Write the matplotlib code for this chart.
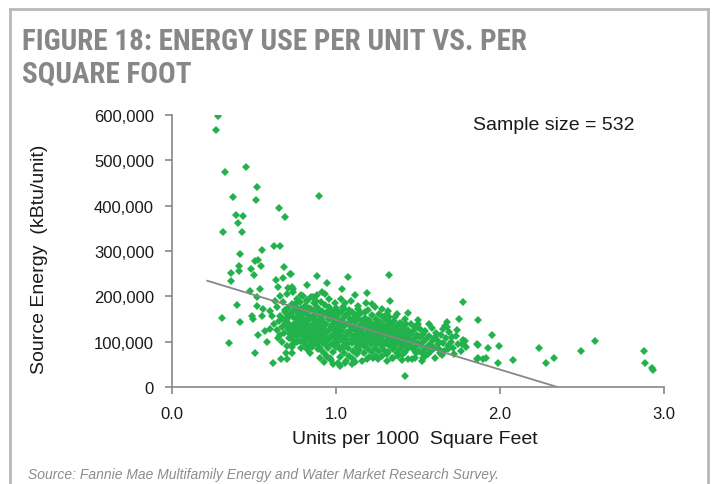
import matplotlib
matplotlib.use("Agg")
import matplotlib.pyplot as plt
from matplotlib.lines import Line2D
import numpy as np

# values: x = units per 1000 sq ft, y = source energy in thousands of kBtu/unit

# sparse points on the left (x < 0.62)
left_x = [0.282, 0.266, 0.451, 0.325, 0.516, 0.374, 0.510, 0.390, 0.431, 0.401, 0.309, 0.427,
          0.549, 0.415, 0.506, 0.522, 0.541, 0.410, 0.480, 0.410, 0.358, 0.502, 0.362, 0.538,
          0.476, 0.516, 0.398, 0.520, 0.557, 0.598, 0.303, 0.486, 0.547, 0.608, 0.496, 0.415,
          0.526, 0.567, 0.598, 0.348, 0.577, 0.506, 0.614, 0.622, 0.659, 0.652, 0.687, 0.894]
left_y = [597, 566, 485, 474, 441, 419, 413, 380, 377, 361, 342, 342,
          303, 293, 277, 280, 266, 268, 260, 255, 251, 247, 233, 216,
          212, 198, 180, 178, 172, 168, 153, 156, 156, 156, 151, 143,
          115, 124, 128, 96, 99, 74, 54, 312, 310, 394, 374, 421]

# x between 0.62 and 0.78
mid_x = [0.683, 0.720, 0.634, 0.679, 0.644, 0.709, 0.740, 0.659, 0.699, 0.628, 0.679, 0.730,
         0.760, 0.638, 0.689, 0.740, 0.659, 0.709, 0.659, 0.669, 0.666, 0.695, 0.730, 0.760,
         0.736, 0.740, 0.700, 0.720, 0.750, 0.770, 0.730, 0.710, 0.760, 0.780, 0.745, 0.720,
         0.690, 0.705, 0.715, 0.620, 0.640, 0.655, 0.670, 0.685, 0.700, 0.715, 0.725, 0.690,
         0.675, 0.645, 0.705, 0.735, 0.745, 0.730, 0.700]
mid_y = [265, 249, 236, 240, 220, 218, 216, 201, 205, 190, 187, 183,
         194, 176, 165, 168, 156, 156, 115, 132, 62, 75, 88, 99,
         104, 95, 150, 160, 140, 165, 130, 142, 150, 135, 122, 118,
         140, 128, 108, 140, 125, 145, 100, 120, 90, 135, 110, 170,
         150, 108, 175, 155, 140, 75, 62]

# upper edge of the main cloud
upper_x = [0.726, 0.882, 0.821, 0.947, 0.917, 0.730, 0.740, 0.801, 0.862, 0.821, 0.780, 0.750,
           1.071, 1.325, 1.035, 1.116, 1.187, 1.045, 1.136, 1.218, 1.279, 0.984, 1.096, 1.177,
           1.309, 1.329, 1.437, 1.421, 1.360, 1.329, 1.400, 1.502, 1.482]
upper_y = [249, 244, 226, 229, 210, 220, 209, 201, 198, 190, 187, 183,
           242, 246, 216, 203, 207, 176, 179, 183, 172, 165, 165, 166,
           161, 190, 163, 150, 154, 143, 139, 139, 132]

# dense core, 0.75 - 1.8
core_x = [0.756, 0.768, 0.775, 0.781, 0.789, 0.794, 0.801, 0.806, 0.812, 0.818, 0.823, 0.829,
          0.834, 0.841, 0.846, 0.852, 0.858, 0.863, 0.868, 0.757, 0.764, 0.772, 0.779, 0.786,
          0.792, 0.798, 0.803, 0.809, 0.815, 0.821, 0.827, 0.832, 0.838, 0.843, 0.849, 0.855,
          0.861, 0.866, 0.803, 0.826, 0.847, 0.787,
          0.872, 0.876, 0.879, 0.883, 0.887, 0.891, 0.894, 0.898, 0.902, 0.905, 0.909, 0.913,
          0.916, 0.920, 0.924, 0.928, 0.931, 0.935, 0.939, 0.942, 0.946, 0.950, 0.953, 0.957,
          0.961, 0.964, 0.968, 0.972, 0.975, 0.979, 0.983, 0.986, 0.990, 0.994, 0.997, 0.878,
          0.890, 0.904, 0.926, 0.948, 0.970, 0.882, 0.935, 0.992, 0.955,
          1.003, 1.007, 1.011, 1.015, 1.019, 1.022, 1.026, 1.030, 1.034, 1.038, 1.042, 1.046,
          1.050, 1.054, 1.058, 1.062, 1.066, 1.070, 1.073, 1.077, 1.081, 1.085, 1.089, 1.093,
          1.097, 1.101, 1.105, 1.109, 1.113, 1.117, 1.121, 1.125, 1.129, 1.133, 1.137, 1.141,
          1.145, 1.149, 1.012, 1.064, 1.118, 1.033, 1.092, 1.005, 1.048, 1.140, 1.020,
          1.153, 1.157, 1.161, 1.165, 1.169, 1.173, 1.177, 1.181, 1.185, 1.189, 1.193, 1.197,
          1.201, 1.205, 1.209, 1.213, 1.217, 1.221, 1.225, 1.229, 1.233, 1.237, 1.241, 1.245,
          1.249, 1.253, 1.257, 1.261, 1.265, 1.269, 1.273, 1.277, 1.281, 1.285, 1.289, 1.293,
          1.297, 1.160, 1.200, 1.258, 1.182, 1.240, 1.292,
          1.302, 1.306, 1.310, 1.314, 1.318, 1.322, 1.326, 1.330, 1.334, 1.338, 1.342, 1.346,
          1.350, 1.354, 1.358, 1.362, 1.366, 1.370, 1.374, 1.378, 1.382, 1.386, 1.390, 1.394,
          1.398, 1.402, 1.406, 1.410, 1.414, 1.418, 1.422, 1.426, 1.430, 1.434, 1.438, 1.442,
          1.446, 1.450, 1.316, 1.370, 1.345, 1.400,
          1.455, 1.460, 1.465, 1.470, 1.475, 1.480, 1.485, 1.490, 1.495, 1.500, 1.505, 1.510,
          1.515, 1.520, 1.525, 1.530, 1.535, 1.540, 1.545, 1.550, 1.555, 1.560, 1.566, 1.572,
          1.578, 1.585, 1.590, 1.596, 1.465, 1.530, 1.500, 1.570,
          1.610, 1.620, 1.630, 1.640, 1.650, 1.660, 1.670, 1.680, 1.690, 1.700, 1.715, 1.730,
          1.745, 1.760, 1.775, 1.790, 1.645, 1.720, 1.650, 1.740]
core_y = [176, 160, 142, 188, 171, 153, 133, 118, 179, 162, 146, 127,
          108, 93, 171, 155, 139, 121, 185, 131, 112, 125, 101, 86,
          137, 112, 97, 145, 104, 84, 114, 158, 132, 116, 101, 88,
          167, 104, 171, 192, 199, 204,
          148, 131, 112, 95, 176, 160, 142, 124, 106, 87, 188, 168,
          151, 133, 117, 99, 72, 180, 160, 140, 121, 104, 86, 195,
          170, 152, 133, 113, 94, 78, 162, 144, 126, 108, 89, 190,
          83, 63, 56, 67, 60, 204, 206, 185, 176,
          175, 156, 138, 121, 102, 84, 66, 166, 147, 129, 111, 93,
          76, 185, 158, 140, 122, 104, 86, 68, 170, 150, 132, 114,
          96, 79, 61, 160, 143, 125, 107, 89, 72, 172, 153, 135,
          117, 99, 52, 57, 55, 195, 190, 92, 171, 82, 145,
          163, 145, 127, 109, 91, 74, 152, 136, 118, 100, 83, 170,
          148, 130, 112, 95, 77, 158, 140, 122, 104, 87, 69, 150,
          133, 115, 97, 80, 162, 143, 125, 107, 90, 154, 136, 118,
          100, 58, 66, 62, 185, 176, 82,
          148, 130, 112, 94, 78, 155, 124, 106, 88, 137, 119, 101,
          84, 146, 128, 110, 93, 76, 134, 116, 99, 81, 142, 124,
          106, 89, 72, 131, 113, 95, 78, 138, 120, 102, 85, 126,
          108, 91, 168, 160, 63, 60,
          140, 118, 100, 83, 125, 107, 90, 74, 115, 97, 80, 128,
          110, 93, 76, 118, 101, 84, 124, 106, 89, 72, 112, 95,
          79, 130, 104, 86, 62, 64, 148, 140,
          120, 102, 84, 115, 97, 80, 108, 91, 122, 100, 86, 112,
          94, 80, 104, 88, 70, 72, 128, 125]

# more points filling the gaps in the core
fill_x = [0.762, 0.770, 0.778, 0.784, 0.791, 0.797, 0.805, 0.811, 0.817, 0.824, 0.831, 0.836,
          0.844, 0.851, 0.857, 0.864, 0.870, 0.876, 0.881, 0.889, 0.896, 0.901, 0.907, 0.912,
          0.918, 0.923, 0.929, 0.934, 0.940, 0.945, 0.951, 0.958, 0.963, 0.969, 0.976, 0.981,
          0.987, 0.993, 0.999, 1.004, 1.010, 1.017, 1.024, 1.031, 1.037, 1.043, 1.049, 1.056,
          1.063, 1.069, 1.075, 1.082, 1.088, 1.095, 1.102, 1.108, 1.115, 1.122, 1.128, 1.135,
          1.142, 1.148, 1.155, 1.163, 1.171, 1.178, 1.186, 1.194, 1.203, 1.211, 1.219, 1.227,
          1.235, 1.243, 1.251, 1.259, 1.267, 1.275, 1.283, 1.291, 1.299, 1.308, 1.316, 1.324,
          1.332, 1.340, 1.348, 1.356, 1.364, 1.372, 1.380, 1.388, 1.396, 1.404, 1.412, 1.420,
          1.428, 1.436, 1.444]
fill_y = [168, 151, 133, 117, 162, 145, 126, 108, 92, 137, 120, 174,
          150, 130, 112, 95, 158, 140, 122, 104, 170, 150, 132, 115,
          97, 160, 142, 124, 107, 90, 168, 149, 128, 110, 158, 138,
          118, 99, 150, 131, 113, 165, 140, 122, 104, 85, 155, 136,
          113, 95, 160, 141, 123, 105, 150, 133, 115, 97, 158, 126,
          108, 90, 136, 118, 100, 143, 127, 109, 139, 121, 103, 131,
          113, 95, 141, 124, 106, 134, 116, 98, 126, 121, 103, 138,
          115, 97, 128, 109, 120, 102, 125, 108, 116, 98, 122, 105,
          112, 94, 118]

# lower edge and right tail
tail_x = [0.740, 0.760, 0.841, 0.913, 0.963, 0.984, 1.024, 1.055, 1.096, 1.187, 1.227, 1.279,
          1.309, 1.421, 1.685, 1.766, 1.787, 1.858, 1.868, 1.899, 1.705, 1.675, 1.604, 1.624,
          1.583, 1.634, 1.604, 1.482, 1.523, 1.543, 1.441, 1.380, 1.340, 1.309, 1.772, 1.750,
          1.864, 1.675, 1.665, 1.949, 1.864, 1.929, 1.994, 2.238, 1.913, 1.858, 1.990, 2.077,
          2.280, 2.331, 2.577, 2.494, 2.876, 2.882, 2.925, 2.935]
tail_y = [95, 102, 76, 80, 65, 51, 47, 54, 51, 62, 65, 69,
          58, 25, 84, 95, 102, 95, 65, 62, 110, 132, 110, 95,
          88, 76, 65, 65, 58, 69, 62, 69, 65, 73, 187, 150,
          148, 143, 135, 115, 93, 85, 91, 87, 65, 62, 54, 59,
          54, 63, 102, 80, 80, 54, 41, 38]

# linear trend line
trend_intercept = 258000
trend_slope = -109800
trend_x = [0.215, 2.95]

sample_size = 532

units = np.array(left_x + mid_x + upper_x + core_x + fill_x + tail_x)
energy = np.array(left_y + mid_y + upper_y + core_y + fill_y + tail_y) * 1000

W, H = 713, 485
fig = plt.figure(figsize=(W / 100, H / 100), dpi=100)
renderer = fig.canvas.get_renderer()

# grey frame round the figure (open at the bottom)
frame_col = "#b9b9b9"
for xs, ys in [([10, 10], [10, H]), ([708, 708], [10, H]), ([10, 708], [10, 10])]:
    fig.add_artist(Line2D([x / W for x in xs], [1 - y / H for y in ys], color=frame_col, lw=2))

title_kw = dict(family=["Roboto Condensed", "PT Sans Narrow", "Liberation Sans"], weight="bold",
                fontsize=19, color="#878787", va="baseline", ha="left")
t1 = fig.text(22 / W, 1 - 50 / H, "FIGURE 18: ENERGY USE PER UNIT VS. PER", **title_kw)
t2 = fig.text(22 / W, 1 - 82 / H, "SQUARE FOOT", **title_kw)
# fit line 1 to the width it has in the picture, without growing taller than there
w = t1.get_window_extent(renderer).width
size = min(21, 19 * 540 / w)
t1.set_fontsize(size)
t2.set_fontsize(size)

ax = fig.add_axes([172 / W, 1 - 388 / H, 492 / W, 272 / H])
ax.plot(units, energy, linestyle="none", marker="D", ms=4.5, color="#21b24b", mew=0)

tx = np.array(trend_x)
ax.plot(tx, trend_intercept + trend_slope * tx, color="#878787", lw=1.3)

ax.set_xlim(0, 3)
ax.set_ylim(0, 600000)
ax.set_xticks([0, 1, 2, 3])
ax.set_xticklabels(["0.0", "1.0", "2.0", "3.0"])
ax.set_yticks(np.arange(0, 600001, 100000))
ax.set_yticklabels(["0" if v == 0 else f"{v:,}" for v in range(0, 600001, 100000)])

axis_col = "#878787"
for s in ["top", "right"]:
    ax.spines[s].set_visible(False)
for s in ["left", "bottom"]:
    ax.spines[s].set_color(axis_col)
    ax.spines[s].set_linewidth(1.2)
ax.tick_params(direction="out", length=5, width=1.2, color=axis_col,
               labelsize=12, labelcolor="#1a1a1a")
ax.tick_params(axis="y", pad=8)
ax.tick_params(axis="x", pad=9)
for lab in ax.get_xticklabels() + ax.get_yticklabels():
    lab.set_family("Liberation Sans")

lab_kw = dict(family="Liberation Sans", fontsize=14, color="#1a1a1a")
fig.text(415 / W, 1 - 440 / H, "Units per 1000  Square Feet", ha="center", va="center", **lab_kw)
fig.text(40 / W, 1 - 259 / H, "Source Energy  (kBtu/unit)", rotation=90,
         ha="center", va="center", **lab_kw)
fig.text(473 / W, 1 - 125 / H, f"Sample size = {sample_size}", ha="left", va="center", **lab_kw)

fig.text(28 / W, 1 - 475 / H,
         "Source: Fannie Mae Multifamily Energy and Water Market Research Survey.",
         family="Liberation Sans", style="italic", fontsize=10, color="#8c8c8c",
         ha="left", va="center")

fig.savefig("out.png", dpi=100)
